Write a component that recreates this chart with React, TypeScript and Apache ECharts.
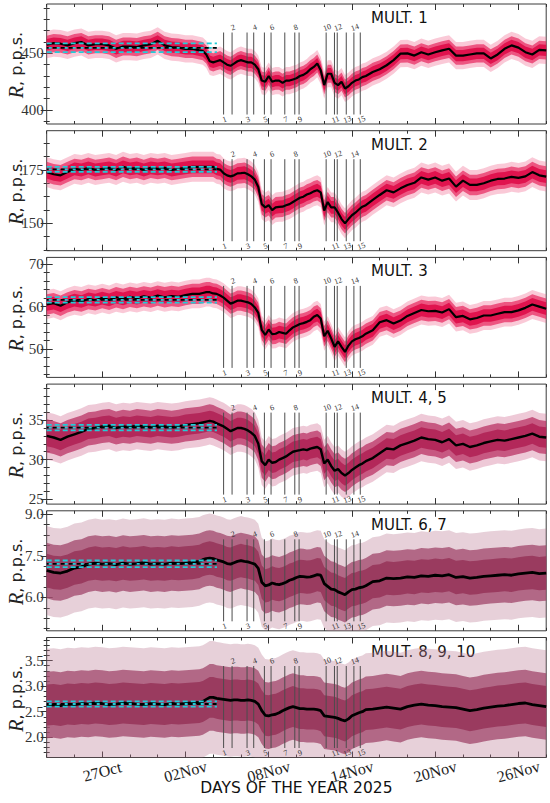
import React, { useEffect, useRef } from 'react';
import * as echarts from 'echarts';

// Sampling days, counted from 23 Oct 2025 00:00
const DAYS = [0,0.5,1,1.5,2,2.5,3,3.5,4,4.5,5,5.5,6,6.5,7,7.5,8,8.5,9,9.5,10,10.5,11,
  11.25,11.5,11.75,12,12.25,12.5,12.75,13,13.25,13.5,13.75,14,14.25,14.5,14.75,15,15.25,15.5,15.75,16,16.25,16.5,16.75,17,17.25,17.5,17.75,18,18.25,18.5,18.75,19,19.25,19.5,19.75,20,20.25,20.5,20.75,21,21.25,21.5,21.75,22,22.25,22.5,22.75,23,
  23.5,24,24.5,25,25.5,26,26.5,27,27.5,28,28.5,29,29.5,30,30.5,31,31.5,32,32.5,33,33.5,34,34.5,35,35.5,36];

const MULT1 = [457.6,459,458.5,457,459,460,457,458,458,457,454,456,456,455.5,457,458,461,457,455.5,455,454,454,452.6,
  452,449,443,442,443,444,442,440,439,441,443,444,443,442,442,440,436,426,425,430,425,426,426,424,426,426,427,428,430,431,433,436,438,441,435,422,432,432,424,422,425,419,421,424,426,427,429,430,
  433.6,436,439.5,444,449.7,450,448,451,449,451,452.6,454,448,448,449,450,450,445.5,449,454,457,455,451,449,453,452.6];

const MULT2 = [174,173,172.5,174,175.5,175,176,175,175.5,176,175,176.5,175.5,176,175,176,175.5,176,175,175.5,176,176.5,176.5,
  176.5,176.5,176.5,176.5,175.5,175.2,173.5,172.5,172,172.5,173.4,173.5,173.7,173,172,170.5,167,159,157.5,158.5,156.2,157.5,157.7,157.8,158.5,159,160,161,162,162.5,163.5,164.1,165,165.5,164.5,156,160,157.5,157.5,155,152,150,152,153.8,155,156.5,157.8,158.5,
  161,163.3,165.5,164.5,166.4,168,169,171.5,170.5,171.5,170,171,167.2,170,168,168,168.8,170,170.8,171,171.8,171.3,172,174,172.5,171.9];

const MULT3 = [60.5,60.8,60.2,61,61.5,61.2,61.8,61.5,62,61.6,62.2,61.8,62.3,62,62.4,62.1,62.6,62.2,62.5,62.3,62.7,63,63,
  63.2,63.4,63.4,63.1,63,62.6,62.1,61.4,60.7,61,61.4,61.4,61.2,61,60.6,59.8,58.5,54.5,53.3,54.6,53.5,53.6,54,53.8,53.6,54.4,55.1,55.5,55.9,56.1,56.4,56.8,57.6,58,57.2,53,54.3,52.5,50.5,51.8,50.5,49.3,50.8,51.8,52.3,52.6,53,53.6,
  54.4,56.3,56.8,56,56.7,57.8,58.5,59.2,58.9,59,58.6,59.4,57.5,57.8,57,57.3,57.9,57.9,58.3,58.7,58.7,59.1,59.7,60.5,60,59.5];

const MULT45 = [33,32.8,32.5,32.9,33.2,33.5,33.9,34,34.2,34.3,34,34.2,34.1,34.3,34.2,34.1,34.3,34.2,34.1,34.2,34.4,34.5,34.6,
  34.7,34.8,34.9,34.8,34.6,34.4,34.2,33.9,33.6,33.8,34,34,33.9,33.7,33.4,33,32,29.8,29.3,30,29.6,29.7,30,30.2,30.4,30.7,31,31.1,31.2,31.3,31.2,31.4,31.5,31.6,31.3,29.5,30,29.2,28.6,28.8,28.3,28,28.3,28.7,29,29.3,29.5,29.8,
  30.2,30.8,31.4,31.3,31.8,32.1,32.4,32.8,32.6,32.5,32.2,32.6,31.8,32,31.6,31.8,32.1,32.3,32.5,32.4,32.6,32.8,33,33.3,32.9,32.8];

const MULT67 = [6.97,6.9,6.88,6.95,7.06,7.1,7.2,7.24,7.2,7.22,7.18,7.24,7.2,7.22,7.25,7.2,7.22,7.2,7.24,7.22,7.24,7.26,7.3,
  7.36,7.4,7.42,7.4,7.35,7.32,7.28,7.22,7.2,7.25,7.3,7.33,7.3,7.28,7.24,7.2,7.05,6.55,6.42,6.45,6.52,6.48,6.46,6.5,6.55,6.62,6.66,6.72,6.76,6.75,6.73,6.74,6.78,6.82,6.8,6.5,6.4,6.3,6.28,6.2,6.15,6.1,6.2,6.28,6.3,6.35,6.37,6.42,
  6.57,6.6,6.7,6.68,6.7,6.74,6.72,6.78,6.76,6.8,6.78,6.82,6.72,6.75,6.7,6.72,6.76,6.78,6.8,6.82,6.8,6.85,6.88,6.9,6.86,6.88];

const MULT8910 = [2.63,2.64,2.62,2.65,2.64,2.66,2.65,2.67,2.66,2.64,2.65,2.67,2.66,2.65,2.64,2.66,2.65,2.64,2.66,2.65,2.66,2.67,2.68,
  2.7,2.74,2.78,2.78,2.76,2.75,2.74,2.73,2.72,2.73,2.73,2.72,2.72,2.73,2.72,2.7,2.65,2.52,2.43,2.42,2.44,2.45,2.48,2.52,2.55,2.58,2.6,2.58,2.56,2.56,2.55,2.55,2.55,2.54,2.52,2.42,2.41,2.4,2.39,2.37,2.34,2.32,2.36,2.42,2.45,2.48,2.5,2.54,
  2.55,2.57,2.59,2.57,2.55,2.6,2.63,2.65,2.63,2.62,2.6,2.59,2.58,2.55,2.52,2.54,2.57,2.59,2.61,2.62,2.64,2.66,2.67,2.64,2.62,2.6];

const PANEL_VALUES = [MULT1, MULT2, MULT3, MULT45, MULT67, MULT8910];
const PANEL_TITLES = ['MULT. 1', 'MULT. 2', 'MULT. 3', 'MULT. 4, 5', 'MULT. 6, 7', 'MULT. 8, 9, 10'];

// spread of the raw counts around the running mean (half-widths): outer, middle, core
const NOISE_OUTER = [12, 7, 3.4, 3.0, 1.6, 1.1];
const NOISE_MID = [8, 4.8, 2.4, 2.1, 1.0, 0.65];
const NOISE_CORE = [5, 3, 1.5, 1.3, 0.6, 0.4];

// quiet-time reference level and its deviation
const BASE_MEAN = [454.9, 175.3, 61.6, 34.05, 7.21, 2.65];
const BASE_DEV = [3.9, 1.15, 0.65, 0.35, 0.12, 0.05];
const BASE_END_DAY = 12.27;

const Y_MIN = [387.7, 137.2, 43.3, 24.37, 4.8, 1.605];
const Y_MAX = [493.5, 193.4, 71.6, 39.56, 9.12, 3.95];
const Y_TICKS = [[400, 450], [150, 175], [50, 60, 70], [25, 30, 35], [6.0, 7.5, 9.0], [2.0, 2.5, 3.0, 3.5]];
const Y_DECIMALS = [0, 0, 0, 0, 1, 1];
const Y_MINOR_STEP = [10, 6.25, 2, 1, 0.375, 0.1];

const EVENT_DAYS = [12.75, 13.36, 14.44, 14.92, 15.69, 16.17, 17.16, 17.88, 18.19, 20.14, 20.74, 20.94, 21.59, 22.14, 22.6];
const EVENT_LABELS = ['1', '2', '3', '4', '5', '6', '7', '8', '9', '10', '11', '12', '13', '14', '15'];

const X_TICK_DAYS = [4, 10, 16, 22, 28, 34];
const X_TICK_LABELS = ['27Oct', '02Nov', '08Nov', '14Nov', '20Nov', '26Nov'];
const X_MINOR_STEP = 2;
const X_MAX_DAY = 36;

const X_TITLE = 'DAYS OF THE YEAR 2025';

const RED = { outer: 'rgba(240,100,140,0.35)', mid: 'rgba(232,40,95,0.72)', core: '#e0134e' };
const MIX = { outer: 'rgba(205,100,140,0.35)', mid: 'rgba(185,45,95,0.72)', core: '#b3285a' };
const MAROON = { outer: 'rgba(185,120,145,0.35)', mid: 'rgba(160,70,105,0.75)', core: '#9a3b5f' };
const PANEL_COLORS = [RED, RED, RED, MIX, MAROON, MAROON];
const LINE_WIDTHS = [2.2, 2.2, 2.2, 2.4, 2.8, 2.8];

const GRID_LEFT = 46.7;
const GRID_WIDTH = 499.5;
const GRID_TOP0 = 4;
const GRID_STEP = 126.7;
const GRID_H = 120;
const EV_TOP = 0.7625;
const EV_BOT = 0.079;

function minorList(min: number, max: number, step: number) {
  const out: number[] = [];
  const start = Math.ceil(min / step - 1e-9);
  for (let k = start; k * step <= max + 1e-9; k++) out.push(+(k * step).toFixed(6));
  return out;
}

function buildOption() {
  const grids: any[] = [];
  const xAxes: any[] = [];
  const yAxes: any[] = [];
  const series: any[] = [];
  const graphics: any[] = [];
  const tickColor = '#333';
  const xMinor = minorList(0, X_MAX_DAY, X_MINOR_STEP);

  for (let p = 0; p < 6; p++) {
    const top = GRID_TOP0 + p * GRID_STEP;
    grids.push({ left: GRID_LEFT, top, width: GRID_WIDTH, height: GRID_H, show: true, borderColor: '#3a3a3a', borderWidth: 1, backgroundColor: 'rgba(0,0,0,0)' });

    const xb = { type: 'value', gridIndex: p, min: 0, max: X_MAX_DAY, axisLine: { show: false }, splitLine: { show: false } };
    const last = p === 5;
    xAxes.push({
      ...xb, position: 'bottom',
      axisTick: { show: true, inside: true, length: 6, customValues: X_TICK_DAYS, lineStyle: { color: tickColor } },
      axisLabel: last ? {
        show: true, customValues: X_TICK_DAYS, rotate: 15, margin: 14, align: 'center', verticalAlign: 'middle',
        fontFamily: 'Liberation Serif', fontSize: 16, color: '#222',
        formatter: (v: number) => { const i = X_TICK_DAYS.indexOf(Math.round(v)); return i >= 0 ? X_TICK_LABELS[i] : ''; },
      } : { show: false },
    });
    xAxes.push({ ...xb, position: 'bottom', axisTick: { show: true, inside: true, length: 3, customValues: xMinor, lineStyle: { color: tickColor } }, axisLabel: { show: false } });
    xAxes.push({ ...xb, position: 'top', axisTick: { show: true, inside: true, length: 6, customValues: X_TICK_DAYS, lineStyle: { color: tickColor } }, axisLabel: { show: false } });
    xAxes.push({ ...xb, position: 'top', axisTick: { show: true, inside: true, length: 3, customValues: xMinor, lineStyle: { color: tickColor } }, axisLabel: { show: false } });

    const yb = { type: 'value', gridIndex: p, min: Y_MIN[p], max: Y_MAX[p], axisLine: { show: false }, splitLine: { show: false } };
    const yMinor = minorList(Y_MIN[p], Y_MAX[p], Y_MINOR_STEP[p]);
    const dec = Y_DECIMALS[p];
    yAxes.push({
      ...yb, position: 'left',
      axisTick: { show: true, inside: true, length: 6, customValues: Y_TICKS[p], lineStyle: { color: tickColor } },
      axisLabel: { show: true, customValues: Y_TICKS[p], margin: 3, fontFamily: 'Liberation Serif', fontSize: 15, color: '#333', formatter: (v: number) => v.toFixed(dec) },
    });
    yAxes.push({ ...yb, position: 'left', axisTick: { show: true, inside: true, length: 3, customValues: yMinor, lineStyle: { color: tickColor } }, axisLabel: { show: false } });
    yAxes.push({ ...yb, position: 'right', axisTick: { show: true, inside: true, length: 6, customValues: Y_TICKS[p], lineStyle: { color: tickColor } }, axisLabel: { show: false } });
    yAxes.push({ ...yb, position: 'right', axisTick: { show: true, inside: true, length: 3, customValues: yMinor, lineStyle: { color: tickColor } }, axisLabel: { show: false } });
    yAxes.push({ type: 'value', gridIndex: p, min: 0, max: 1, show: false });

    const xi = 4 * p;
    const yi = 5 * p;
    const vals = PANEL_VALUES[p];
    const common = { type: 'line', xAxisIndex: xi, yAxisIndex: yi, symbol: 'none', silent: true, animation: false };

    const band = (w: number, color: string, z: number) => {
      series.push({
        type: 'custom', xAxisIndex: xi, yAxisIndex: yi, z, silent: true, clip: true,
        itemStyle: { color },
        data: [[DAYS[0], vals[0]]],
        renderItem: (_params: any, api: any) => {
          const upper = DAYS.map((d, i) => api.coord([d, vals[i] + w]));
          const lower = DAYS.map((d, i) => api.coord([d, vals[i] - w])).reverse();
          return { type: 'polygon', shape: { points: upper.concat(lower) }, style: { fill: color, stroke: 'none' } };
        },
      });
    };
    const pc = PANEL_COLORS[p];
    band(NOISE_OUTER[p], pc.outer, 1);
    band(NOISE_MID[p], pc.mid, 1);
    band(NOISE_CORE[p], pc.core, 2);

    series.push({
      type: 'custom', xAxisIndex: xi, yAxisIndex: yi + 4, z: 3, silent: true, clip: false,
      itemStyle: { color: '#333333' },
      emphasis: { disabled: true },
      data: EVENT_DAYS.map((d, i) => [d, 0.5, i]),
      renderItem: (_params: any, api: any) => {
        const x = api.value(0);
        const k = api.value(2);
        const a = api.coord([x, EV_TOP]);
        const b = api.coord([x, EV_BOT]);
        const even = (k + 1) % 2 === 0;
        return {
          type: 'group',
          children: [
            { type: 'line', shape: { x1: a[0], y1: a[1], x2: b[0], y2: b[1] }, style: { stroke: '#4d4d4d', lineWidth: 1 } },
            {
              type: 'text', x: a[0] + 1, y: even ? a[1] - 5 : b[1] + 5, rotation: 0.35,
              style: { text: EVENT_LABELS[k], fontFamily: 'Liberation Serif', fontSize: 8, fill: '#333333', align: 'center', verticalAlign: 'middle' },
            },
          ],
        };
      },
    });

    series.push({ ...common, z: 4, lineStyle: { color: '#000', width: LINE_WIDTHS[p] }, data: DAYS.map((d, i) => [d, vals[i]]) });

    const m = BASE_MEAN[p];
    const dv = BASE_DEV[p];
    const cyan = '#22ccd8';
    [m + dv, m - dv, m].forEach((lv) => {
      series.push({ ...common, z: 5, lineStyle: { color: cyan, width: 1.8, type: [5, 3] }, data: [[0, lv], [BASE_END_DAY, lv]] });
    });
    series.push({ ...common, z: 6, lineStyle: { color: '#000', width: 1.8, type: [4, 4], dashOffset: 2 }, data: [[0, m], [BASE_END_DAY, m]] });

    graphics.push({
      type: 'text', x: 371, y: top + 14,
      style: { text: PANEL_TITLES[p], fontFamily: 'DejaVu Sans', fontSize: 15, fill: '#111', align: 'left', verticalAlign: 'middle' },
    });
    graphics.push({
      type: 'text', x: 16, y: top + 61, rotation: Math.PI / 2,
      style: {
        text: '{r|R}{s|, p.p.s.}', align: 'center', verticalAlign: 'middle', fill: '#222',
        rich: {
          r: { fontFamily: 'Liberation Serif', fontStyle: 'italic', fontSize: 20, fill: '#222' },
          s: { fontFamily: 'DejaVu Sans', fontSize: 16, fill: '#222' },
        },
      },
    });
  }

  graphics.push({
    type: 'text', x: GRID_LEFT + GRID_WIDTH / 2, y: 788,
    style: { text: X_TITLE, fontFamily: 'DejaVu Sans', fontSize: 15.5, fill: '#111', align: 'center', verticalAlign: 'middle' },
  });

  return {
    animation: false,
    backgroundColor: '#fff',
    grid: grids,
    xAxis: xAxes,
    yAxis: yAxes,
    series,
    graphic: graphics,
  };
}

export default function App() {
  const ref = useRef<HTMLDivElement>(null);
  useEffect(() => {
    if (!ref.current) return;
    const chart = echarts.init(ref.current, undefined, { renderer: 'svg' });
    chart.setOption(buildOption() as any);
    return () => chart.dispose();
  }, []);
  return <div ref={ref} style={{ position: 'absolute', left: 0, top: 0, width: 550, height: 803 }} />;
}
